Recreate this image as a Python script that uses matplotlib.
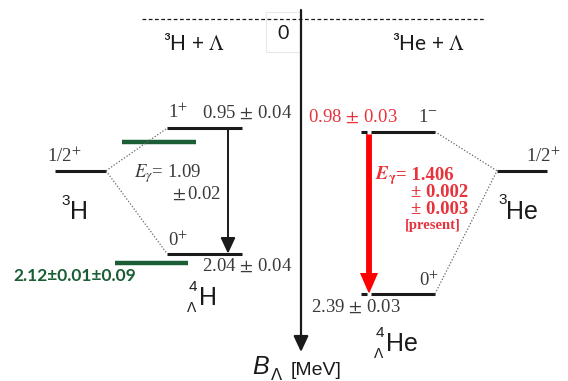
import matplotlib
matplotlib.use("Agg")
import matplotlib.pyplot as plt
from matplotlib.patches import FancyArrowPatch, Rectangle

plt.rcParams['mathtext.fontset'] = 'stix'

# ---- data (binding energies, MeV) ----
h4_levels = [0.95, 2.04]          # 4ΛH 1+, 0+
h4_spins = ['1$^{+}$', '0$^{+}$']
h4_labels = ['0.95$\\,\\pm\\,$0.04', '2.04$\\,\\pm\\,$0.04']
he4_levels = [0.98, 2.39]         # 4ΛHe 1-, 0+
he4_spins = ['1$^{-}$', '0$^{+}$']
he4_labels = ['0.98$\\,\\pm\\,$0.03', '2.39$\\,\\pm\\,$0.03']
green_levels = [1.07, 2.12]       # other measurement (schematic)
core_level = 1.32                 # schematic position of 3H / 3He 1/2+
zero_level = 0.0
h4_egamma = ['$E_{\\gamma}$= 1.09', '$\\pm\\,$0.02']
he4_egamma = ['= 1.406', '± 0.002', '± 0.003', '[present]']
green_label = '2.12±0.01±0.09'

# ---- layout ----
W, H = 568, 381
S, Y0 = 115.0, 19.0               # px per MeV, px of zero
def py(p):
    return (p - Y0) / S
def dy(p):
    return p / S

fig = plt.figure(figsize=(W / 100, H / 100), dpi=100)
ax = fig.add_axes([0, 0, 1, 1])
ax.set_xlim(0, W)
ax.set_ylim(py(H), py(0))
ax.axis('off')

black = '#1a1a1a'
gray = '#3a3a3a'
green = '#1b5e35'
red = '#ff0000'
redtxt = '#e8323c'
serif = 'Liberation Serif'
sans = 'Liberation Sans'
cal = 'Lato'
fs = 13.5

x_h4 = (167, 242)
x_he4 = (361, 435)
x_h3 = (55, 106)
x_he3 = (497, 547)
x_green = [(122, 196), (115, 188)]

# zero dashed line
ax.plot([142, 485], [zero_level, zero_level], ls=(0, (3, 2)), color=black, lw=0.9)

# zero label with faint box
ax.add_patch(Rectangle((266, py(52)), 34, py(12) - py(52), fill=False, ec='#e8e8e8', lw=0.8))
ax.text(283, py(33), '0', family=cal, fontsize=14, ha='center', va='center', color=black)

# vertical B axis
ax.add_patch(FancyArrowPatch((301, py(10)), (301, py(352)), arrowstyle='-|>,head_length=6,head_width=2.8',
                             color=black, lw=1.6, mutation_scale=1.6, shrinkA=0, shrinkB=0))

ax.text(194, py(43), '³H + $\\Lambda$', family=cal, fontsize=15, ha='center', va='center', color=black)
ax.text(429, py(43), '³He + $\\Lambda$', family=cal, fontsize=15, ha='center', va='center', color=black)

# green levels
for (x0, x1), lv in zip(x_green, green_levels):
    ax.plot([x0, x1], [lv, lv], color=green, lw=3.2, solid_capstyle='butt')

# core levels
ax.plot(x_h3, [core_level] * 2, color=black, lw=2.2, solid_capstyle='butt')
ax.plot(x_he3, [core_level] * 2, color=black, lw=2.2, solid_capstyle='butt')

# hypernuclear levels
for lv in h4_levels:
    ax.plot(x_h4, [lv, lv], color=black, lw=2.2, solid_capstyle='butt')
for lv in he4_levels:
    ax.plot(x_he4, [lv, lv], color=black, lw=2.2, solid_capstyle='butt')

# dotted connectors
dot = dict(color='#666666', lw=0.9, ls=(0, (1, 1.5)))
for lv in h4_levels:
    ax.plot([x_h3[1], x_h4[0]], [core_level, lv], **dot)
for lv in he4_levels:
    ax.plot([x_he4[1], x_he3[0]], [lv, core_level], **dot)

# 4ΛH transition arrow
ax.add_patch(FancyArrowPatch((228, h4_levels[0]), (228, h4_levels[1]),
                             arrowstyle='-|>,head_length=6,head_width=2.8', mutation_scale=1.6,
                             color=black, lw=1.4, shrinkA=0, shrinkB=0))
# 4ΛHe transition arrow (red, thick)
ax.add_patch(FancyArrowPatch((369, he4_levels[0]), (369, he4_levels[1]),
                             arrowstyle='simple,head_length=15,head_width=13,tail_width=4.2',
                             mutation_scale=1.0, color=red, lw=0, shrinkA=0, shrinkB=0))
ax.plot([369, 369], he4_levels, ls='none', marker='s', ms=3, mfc='white', mec='none')

# labels 4ΛH side
ax.text(168, h4_levels[0] - dy(6), h4_spins[0], family=serif, fontsize=fs, color=gray, ha='left', va='bottom')
ax.text(292, h4_levels[0] - dy(6), h4_labels[0], family=serif, fontsize=fs, color=gray, ha='right', va='bottom')
ax.text(168, h4_levels[1] - dy(4), h4_spins[1], family=serif, fontsize=fs, color=gray, ha='left', va='bottom')
ax.text(292, h4_levels[1] + dy(4), h4_labels[1], family=serif, fontsize=fs, color=gray, ha='right', va='top')
ax.text(134, py(174), h4_egamma[0], family=serif, fontsize=fs, color=gray, ha='left', va='center')
ax.text(221, py(194), h4_egamma[1], family=serif, fontsize=fs, color=gray, ha='right', va='center')
ax.text(47, core_level - dy(5), '1/2$^{+}$', family=serif, fontsize=fs, color=gray, ha='left', va='bottom')
ax.text(13, py(276), green_label, family=cal, fontsize=12.5, fontweight='bold', color=green, ha='left', va='center')

# nuclei names
ax.text(61, py(201), '3', family=sans, fontsize=11, color=black, ha='left', va='center')
ax.text(70, py(212), 'H', family=sans, fontsize=18, color=black, ha='left', va='center')
ax.text(189, py(287), '4', family=sans, fontsize=11, color=black, ha='left', va='center')
ax.text(187, py(308), 'Λ', family=sans, fontsize=10, color=black, ha='left', va='center')
ax.text(199, py(298), 'H', family=sans, fontsize=18, color=black, ha='left', va='center')
ax.text(498, py(200), '3', family=sans, fontsize=11, color=black, ha='left', va='center')
ax.text(506, py(212), 'He', family=sans, fontsize=18, color=black, ha='left', va='center')
ax.text(376, py(333), '4', family=sans, fontsize=11, color=black, ha='left', va='center')
ax.text(374, py(354), 'Λ', family=sans, fontsize=10, color=black, ha='left', va='center')
ax.text(386, py(344), 'He', family=sans, fontsize=18, color=black, ha='left', va='center')
ax.text(526, core_level - dy(5), '1/2$^{+}$', family=serif, fontsize=fs, color=gray, ha='left', va='bottom')

# labels 4ΛHe side
ax.text(398, he4_levels[0] - dy(6), he4_labels[0], family=serif, fontsize=fs, color=redtxt, ha='right', va='bottom')
ax.text(418, he4_levels[0] - dy(6), he4_spins[0], family=serif, fontsize=fs, color=gray, ha='left', va='bottom')
ax.text(419, he4_levels[1] - dy(4), he4_spins[1], family=serif, fontsize=fs, color=gray, ha='left', va='bottom')
ax.text(311, he4_levels[1] + dy(4), he4_labels[1], family=serif, fontsize=fs, color=gray, ha='left', va='top')
ax.text(375, py(176), '$\\mathbfit{E}_{\\mathbf{\\gamma}}$', family=serif, fontsize=fs, color=redtxt, ha='left', va='center')
ax.text(396, py(175), he4_egamma[0], family=serif, fontsize=fs, fontweight='bold', color=redtxt, ha='left', va='center')
ax.text(468, py(192), he4_egamma[1], family=serif, fontsize=fs, fontweight='bold', color=redtxt, ha='right', va='center')
ax.text(468, py(209), he4_egamma[2], family=serif, fontsize=fs, fontweight='bold', color=redtxt, ha='right', va='center')
ax.text(461, py(225), he4_egamma[3], family=serif, fontsize=10.5, fontweight='bold', color=redtxt, ha='right', va='center')

# axis label
ax.text(252, py(367), 'B', family=sans, fontsize=18, color=black, ha='left', va='center', fontstyle='italic')
ax.text(271, py(375), 'Λ', family=sans, fontsize=12, color=black, ha='left', va='center')
ax.text(291, py(370), '[MeV]', family=sans, fontsize=14, color=black, ha='left', va='center')

fig.savefig('out.png', dpi=100)
